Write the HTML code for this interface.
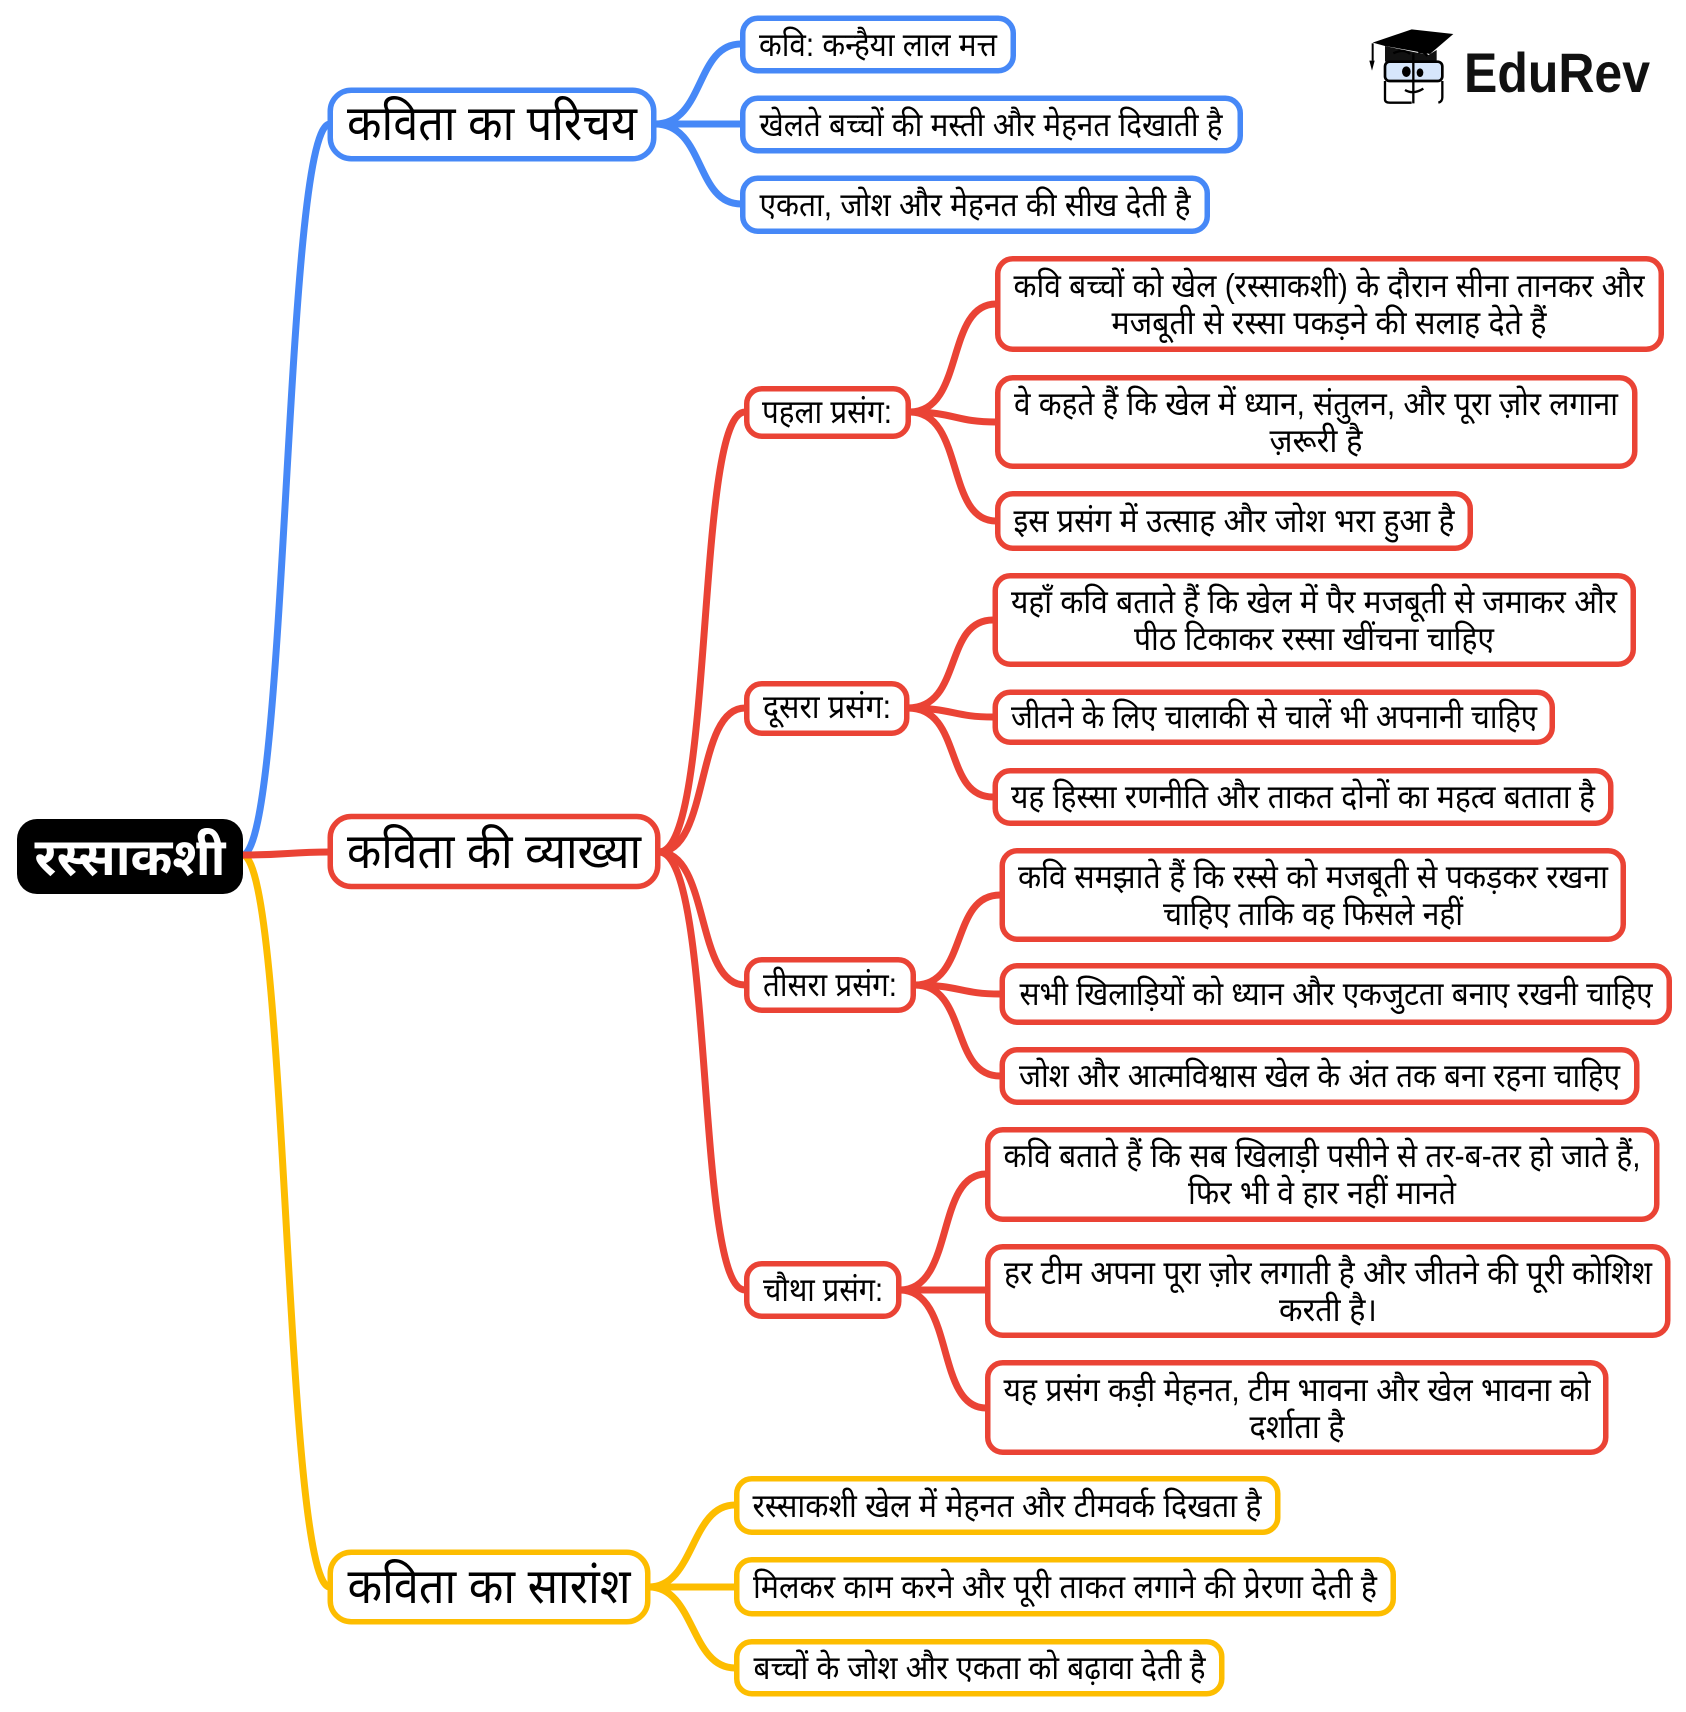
<!DOCTYPE html>
<html><head><meta charset="utf-8"><style>
html,body{margin:0;padding:0;background:#fff}
svg{display:block}
text{font-family:"Liberation Sans","Noto Sans Devanagari","Lohit Devanagari","FreeSans",sans-serif;fill:#000;text-anchor:middle}
.l{font-size:33px}.m{font-size:49px}
.n{fill:#fff;stroke-width:5.5}
.c{fill:none;stroke-width:7;stroke-linecap:round}
.b{stroke:#4688f7}.r{stroke:#ea4335}.y{stroke:#fdbd00}
</style></head><body>
<svg width="1686" height="1712" viewBox="0 0 1686 1712" xmlns="http://www.w3.org/2000/svg">
<rect width="1686" height="1712" fill="#fff"/>
<g class="c b">
<path d="M243 855C288 845 284 134 329 124"/>
<path d="M655 124C705 124 695 44 741 44"/>
<path d="M655 124H741"/>
<path d="M655 124C705 124 695 204 741 204"/>
</g>
<g class="c y">
<path d="M243 855C288 865 284 1577 329 1587"/>
<path d="M649 1587C695 1587 690 1505 735 1505"/>
<path d="M649 1587H735"/>
<path d="M649 1587C695 1587 690 1668 735 1668"/>
</g>
<g class="c r">
<path d="M243 855C285 855 290 852 329 852"/>
<path d="M659 852C715 852 695 412 745 412"/>
<path d="M659 852C710 852 695 708 745 708"/>
<path d="M659 852C710 852 695 985 745 985"/>
<path d="M659 852C715 852 695 1290 745 1290"/>
<path d="M910 412C965 412 945 304 996 304"/>
<path d="M910 412C955 412 955 422 996 422"/>
<path d="M910 412C965 412 945 521 996 521"/>
<path d="M908 708C963 708 943 620 993 620"/>
<path d="M908 708C953 708 953 717 993 717"/>
<path d="M908 708C963 708 943 797 993 797"/>
<path d="M915 985C968 985 950 895 1000 895"/>
<path d="M915 985C960 985 960 994 1000 994"/>
<path d="M915 985C968 985 950 1076 1000 1076"/>
<path d="M900 1290C955 1290 935 1174 986 1174"/>
<path d="M900 1290H986"/>
<path d="M900 1290C955 1290 935 1408 986 1408"/>
</g>

<rect x="17" y="819" width="226" height="75" rx="20" fill="#000"/>
<text x="130" y="875" font-size="52" font-weight="700" style="fill:#fff" textLength="191" lengthAdjust="spacingAndGlyphs">रस्साकशी</text>

<rect class="n b" x="330.250" y="90.250" width="323.500" height="68.500" rx="21"/>
<text class="m" x="492" y="140" textLength="290" lengthAdjust="spacingAndGlyphs">कविता का परिचय</text>
<rect class="n r" x="330.250" y="816.500" width="327.500" height="70" rx="21"/>
<text class="m" x="494" y="868" textLength="294" lengthAdjust="spacingAndGlyphs">कविता की व्याख्या</text>
<rect class="n y" x="330.250" y="1552.250" width="317.500" height="69.500" rx="21"/>
<text class="m" x="489" y="1603" textLength="283" lengthAdjust="spacingAndGlyphs">कविता का सारांश</text>

<rect class="n b" x="742.750" y="18.250" width="270.500" height="52.500" rx="15"/>
<text class="l" x="878" y="56" textLength="238" lengthAdjust="spacingAndGlyphs">कवि: कन्हैया लाल मत्त</text>
<rect class="n b" x="742.750" y="98.250" width="497.500" height="52.500" rx="15"/>
<text class="l" x="991" y="136" textLength="463" lengthAdjust="spacingAndGlyphs">खेलते बच्चों की मस्ती और मेहनत दिखाती है</text>
<rect class="n b" x="742.750" y="178.250" width="464.500" height="53" rx="15"/>
<text class="l" x="975" y="216" textLength="431" lengthAdjust="spacingAndGlyphs">एकता, जोश और मेहनत की सीख देती है</text>

<rect class="n r" x="746.750" y="388.750" width="161.500" height="47.500" rx="15"/>
<text class="l" x="827" y="423" textLength="130" lengthAdjust="spacingAndGlyphs">पहला प्रसंग:</text>
<rect class="n r" x="746.750" y="683.750" width="160" height="49.500" rx="15"/>
<text class="l" x="827" y="718" textLength="128" lengthAdjust="spacingAndGlyphs">दूसरा प्रसंग:</text>
<rect class="n r" x="746.750" y="959.750" width="166.500" height="50.500" rx="15"/>
<text class="l" x="830" y="996" textLength="134" lengthAdjust="spacingAndGlyphs">तीसरा प्रसंग:</text>
<rect class="n r" x="746.750" y="1263.750" width="152" height="52.500" rx="15"/>
<text class="l" x="823" y="1301" textLength="120" lengthAdjust="spacingAndGlyphs">चौथा प्रसंग:</text>

<rect class="n r" x="997.750" y="258.750" width="663.500" height="90.500" rx="15"/>
<text class="l" x="1329" y="297" textLength="631" lengthAdjust="spacingAndGlyphs">कवि बच्चों को खेल (रस्साकशी) के दौरान सीना तानकर और</text>
<text class="l" x="1329" y="334" textLength="435" lengthAdjust="spacingAndGlyphs">मजबूती से रस्सा पकड़ने की सलाह देते हैं</text>
<rect class="n r" x="997.750" y="377.750" width="637" height="88.500" rx="15"/>
<text class="l" x="1316" y="415" textLength="604" lengthAdjust="spacingAndGlyphs">वे कहते हैं कि खेल में ध्यान, संतुलन, और पूरा ज़ोर लगाना</text>
<text class="l" x="1316" y="452" textLength="93" lengthAdjust="spacingAndGlyphs">ज़रूरी है</text>
<rect class="n r" x="997.750" y="493.750" width="472.500" height="54.500" rx="15"/>
<text class="l" x="1234" y="532" textLength="441" lengthAdjust="spacingAndGlyphs">इस प्रसंग में उत्साह और जोश भरा हुआ है</text>

<rect class="n r" x="995.250" y="575.750" width="638" height="88.500" rx="15"/>
<text class="l" x="1314" y="613" textLength="606" lengthAdjust="spacingAndGlyphs">यहाँ कवि बताते हैं कि खेल में पैर मजबूती से जमाकर और</text>
<text class="l" x="1314" y="650" textLength="360" lengthAdjust="spacingAndGlyphs">पीठ टिकाकर रस्सा खींचना चाहिए</text>
<rect class="n r" x="995.250" y="692.250" width="557" height="50" rx="15"/>
<text class="l" x="1274" y="728" textLength="526" lengthAdjust="spacingAndGlyphs">जीतने के लिए चालाकी से चालें भी अपनानी चाहिए</text>
<rect class="n r" x="995.250" y="770.750" width="615.500" height="52.500" rx="15"/>
<text class="l" x="1303" y="808" textLength="584" lengthAdjust="spacingAndGlyphs">यह हिस्सा रणनीति और ताकत दोनों का महत्व बताता है</text>

<rect class="n r" x="1002.250" y="850.750" width="621" height="88.500" rx="15"/>
<text class="l" x="1313" y="888" textLength="590" lengthAdjust="spacingAndGlyphs">कवि समझाते हैं कि रस्से को मजबूती से पकड़कर रखना</text>
<text class="l" x="1313" y="925" textLength="300" lengthAdjust="spacingAndGlyphs">चाहिए ताकि वह फिसले नहीं</text>
<rect class="n r" x="1002.250" y="965.750" width="667" height="56.500" rx="15"/>
<text class="l" x="1336" y="1005" textLength="633" lengthAdjust="spacingAndGlyphs">सभी खिलाड़ियों को ध्यान और एकजुटता बनाए रखनी चाहिए</text>
<rect class="n r" x="1002.250" y="1049.750" width="634.500" height="52.500" rx="15"/>
<text class="l" x="1319.500" y="1087" textLength="601" lengthAdjust="spacingAndGlyphs">जोश और आत्मविश्वास खेल के अंत तक बना रहना चाहिए</text>

<rect class="n r" x="987.750" y="1129.750" width="669" height="89.500" rx="15"/>
<text class="l" x="1322" y="1167" textLength="637" lengthAdjust="spacingAndGlyphs">कवि बताते हैं कि सब खिलाड़ी पसीने से तर-ब-तर हो जाते हैं,</text>
<text class="l" x="1322" y="1204" textLength="268" lengthAdjust="spacingAndGlyphs">फिर भी वे हार नहीं मानते</text>
<rect class="n r" x="987.750" y="1246.750" width="680" height="88.500" rx="15"/>
<text class="l" x="1328" y="1284" textLength="648" lengthAdjust="spacingAndGlyphs">हर टीम अपना पूरा ज़ोर लगाती है और जीतने की पूरी कोशिश</text>
<text class="l" x="1328" y="1321" textLength="98" lengthAdjust="spacingAndGlyphs">करती है।</text>
<rect class="n r" x="987.750" y="1362.750" width="618" height="89.500" rx="15"/>
<text class="l" x="1297" y="1401" textLength="587" lengthAdjust="spacingAndGlyphs">यह प्रसंग कड़ी मेहनत, टीम भावना और खेल भावना को</text>
<text class="l" x="1297" y="1438" textLength="95" lengthAdjust="spacingAndGlyphs">दर्शाता है</text>

<rect class="n y" x="736.750" y="1478.750" width="541" height="53.500" rx="15"/>
<text class="l" x="1007" y="1517" textLength="509" lengthAdjust="spacingAndGlyphs">रस्साकशी खेल में मेहनत और टीमवर्क दिखता है</text>
<rect class="n y" x="736.750" y="1559.750" width="656.500" height="54" rx="15"/>
<text class="l" x="1065" y="1598" textLength="624" lengthAdjust="spacingAndGlyphs">मिलकर काम करने और पूरी ताकत लगाने की प्रेरणा देती है</text>
<rect class="n y" x="736.750" y="1641.750" width="485" height="52" rx="15"/>
<text class="l" x="979.500" y="1679" textLength="452" lengthAdjust="spacingAndGlyphs">बच्चों के जोश और एकता को बढ़ावा देती है</text>

<g transform="translate(1340 10) scale(.33333)">
<path d="M135 108V155H290V120L265 135Z" fill="#111"/>
<path d="M98 98L215 58L340 72L270 132L135 108Z" fill="#000"/>
<path d="M98 100V152" stroke="#000" stroke-width="6" fill="none"/>
<path d="M88 152H104L96 182Z" fill="#000"/>
<rect x="135" y="155" width="172" height="58" rx="14" fill="#d6e6fb" stroke="#000" stroke-width="8"/>
<path d="M135 213V268Q135 278 150 278H215M307 213V262Q307 275 295 278M220 130V280M160 130Q190 115 210 132M235 128Q250 122 262 138M195 240Q220 255 250 236" fill="none" stroke="#000" stroke-width="7"/>
<ellipse cx="199" cy="185" rx="13" ry="16" fill="#000"/><ellipse cx="240" cy="188" rx="10" ry="13" fill="#000"/>
</g>
<text x="1557" y="92" font-size="56" font-weight="700" textLength="186" lengthAdjust="spacingAndGlyphs" style="fill:#111">EduRev</text>
</svg>
</body></html>
